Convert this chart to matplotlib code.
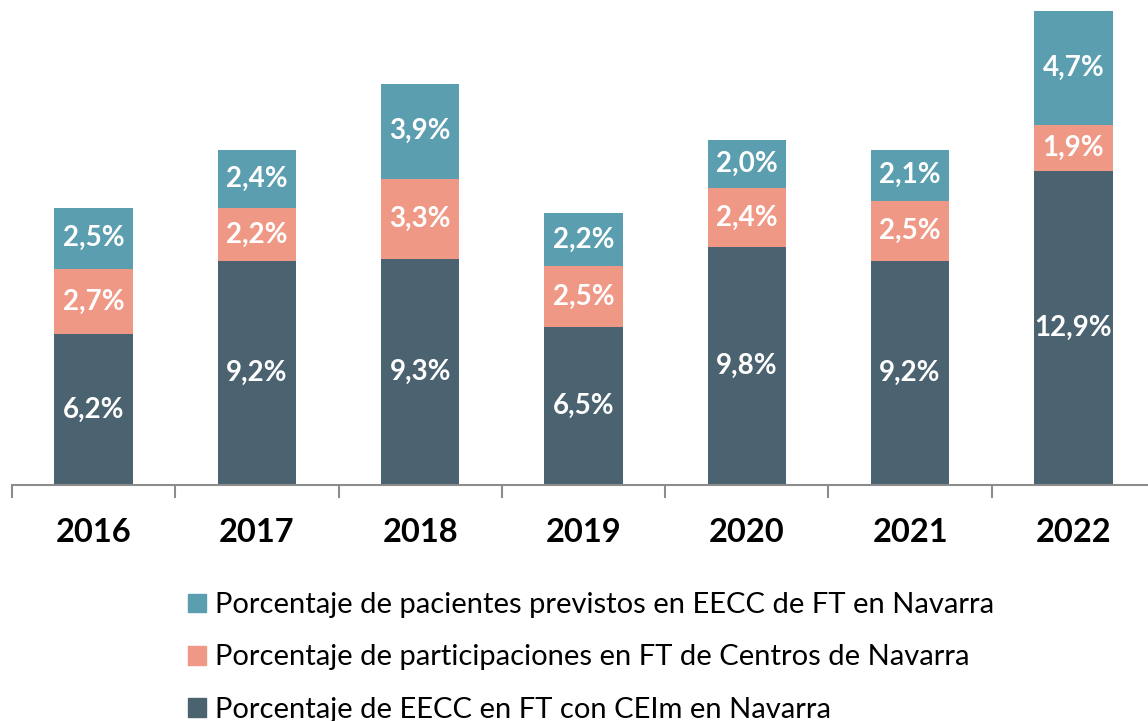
import matplotlib.pyplot as plt
from matplotlib.patches import Patch

years = ["2016", "2017", "2018", "2019", "2020", "2021", "2022"]
eecc_ceim = [6.2, 9.2, 9.3, 6.5, 9.8, 9.2, 12.9]
participaciones = [2.7, 2.2, 3.3, 2.5, 2.4, 2.5, 1.9]
pacientes = [2.5, 2.4, 3.9, 2.2, 2.0, 2.1, 4.7]

labels = [
    "Porcentaje de EECC en FT con CEIm en Navarra",
    "Porcentaje de participaciones en FT de Centros de Navarra",
    "Porcentaje de pacientes previstos en EECC de FT en Navarra",
]
colors = ["#4b6270", "#f09886", "#5a9eaf"]

plt.rcParams["font.family"] = ["Lato", "DejaVu Sans"]

fig = plt.figure(figsize=(11.48, 7.21), dpi=100)
ax = fig.add_axes([12 / 1148, 1 - 485 / 721, 1143 / 1148, 485 / 721])
ax.set_xlim(-0.5, 6.5)
ax.set_ylim(0, 19.95)

x = list(range(len(years)))
bottom = [0] * len(years)
for series, color in zip([eecc_ceim, participaciones, pacientes], colors):
    bars = ax.bar(x, series, width=0.48, bottom=bottom, color=color)
    for b, v, base in zip(bars, series, bottom):
        ax.text(b.get_x() + b.get_width() / 2, base + v / 2,
                f"{v:.1f}%".replace(".", ","), ha="center", va="center",
                color="white", fontsize=20, fontweight="bold")
    bottom = [a + b for a, b in zip(bottom, series)]

# axis styling
for side in ["top", "right", "left"]:
    ax.spines[side].set_visible(False)
ax.spines["bottom"].set_color("#8c8c8c")
ax.spines["bottom"].set_linewidth(1.5)
ax.set_yticks([])
ax.set_xticks(x)
ax.set_xticklabels(years, fontsize=23.5, fontweight="bold")
ax.tick_params(axis="x", which="major", length=0, pad=24)
ax.set_xticks([i - 0.5 for i in range(len(years) + 1)], minor=True)
ax.tick_params(axis="x", which="minor", length=9, width=1.5, color="#8c8c8c")

handles = [Patch(color=c) for c in colors]
fig.legend(handles[::-1], labels[::-1], loc="upper left",
           bbox_to_anchor=(162 / 1148, 1 - 566 / 721), frameon=False,
           fontsize=21, handlelength=0.62, handleheight=0.62,
           handletextpad=0.3, labelspacing=0.9)

fig.savefig("out.png", dpi=100)
